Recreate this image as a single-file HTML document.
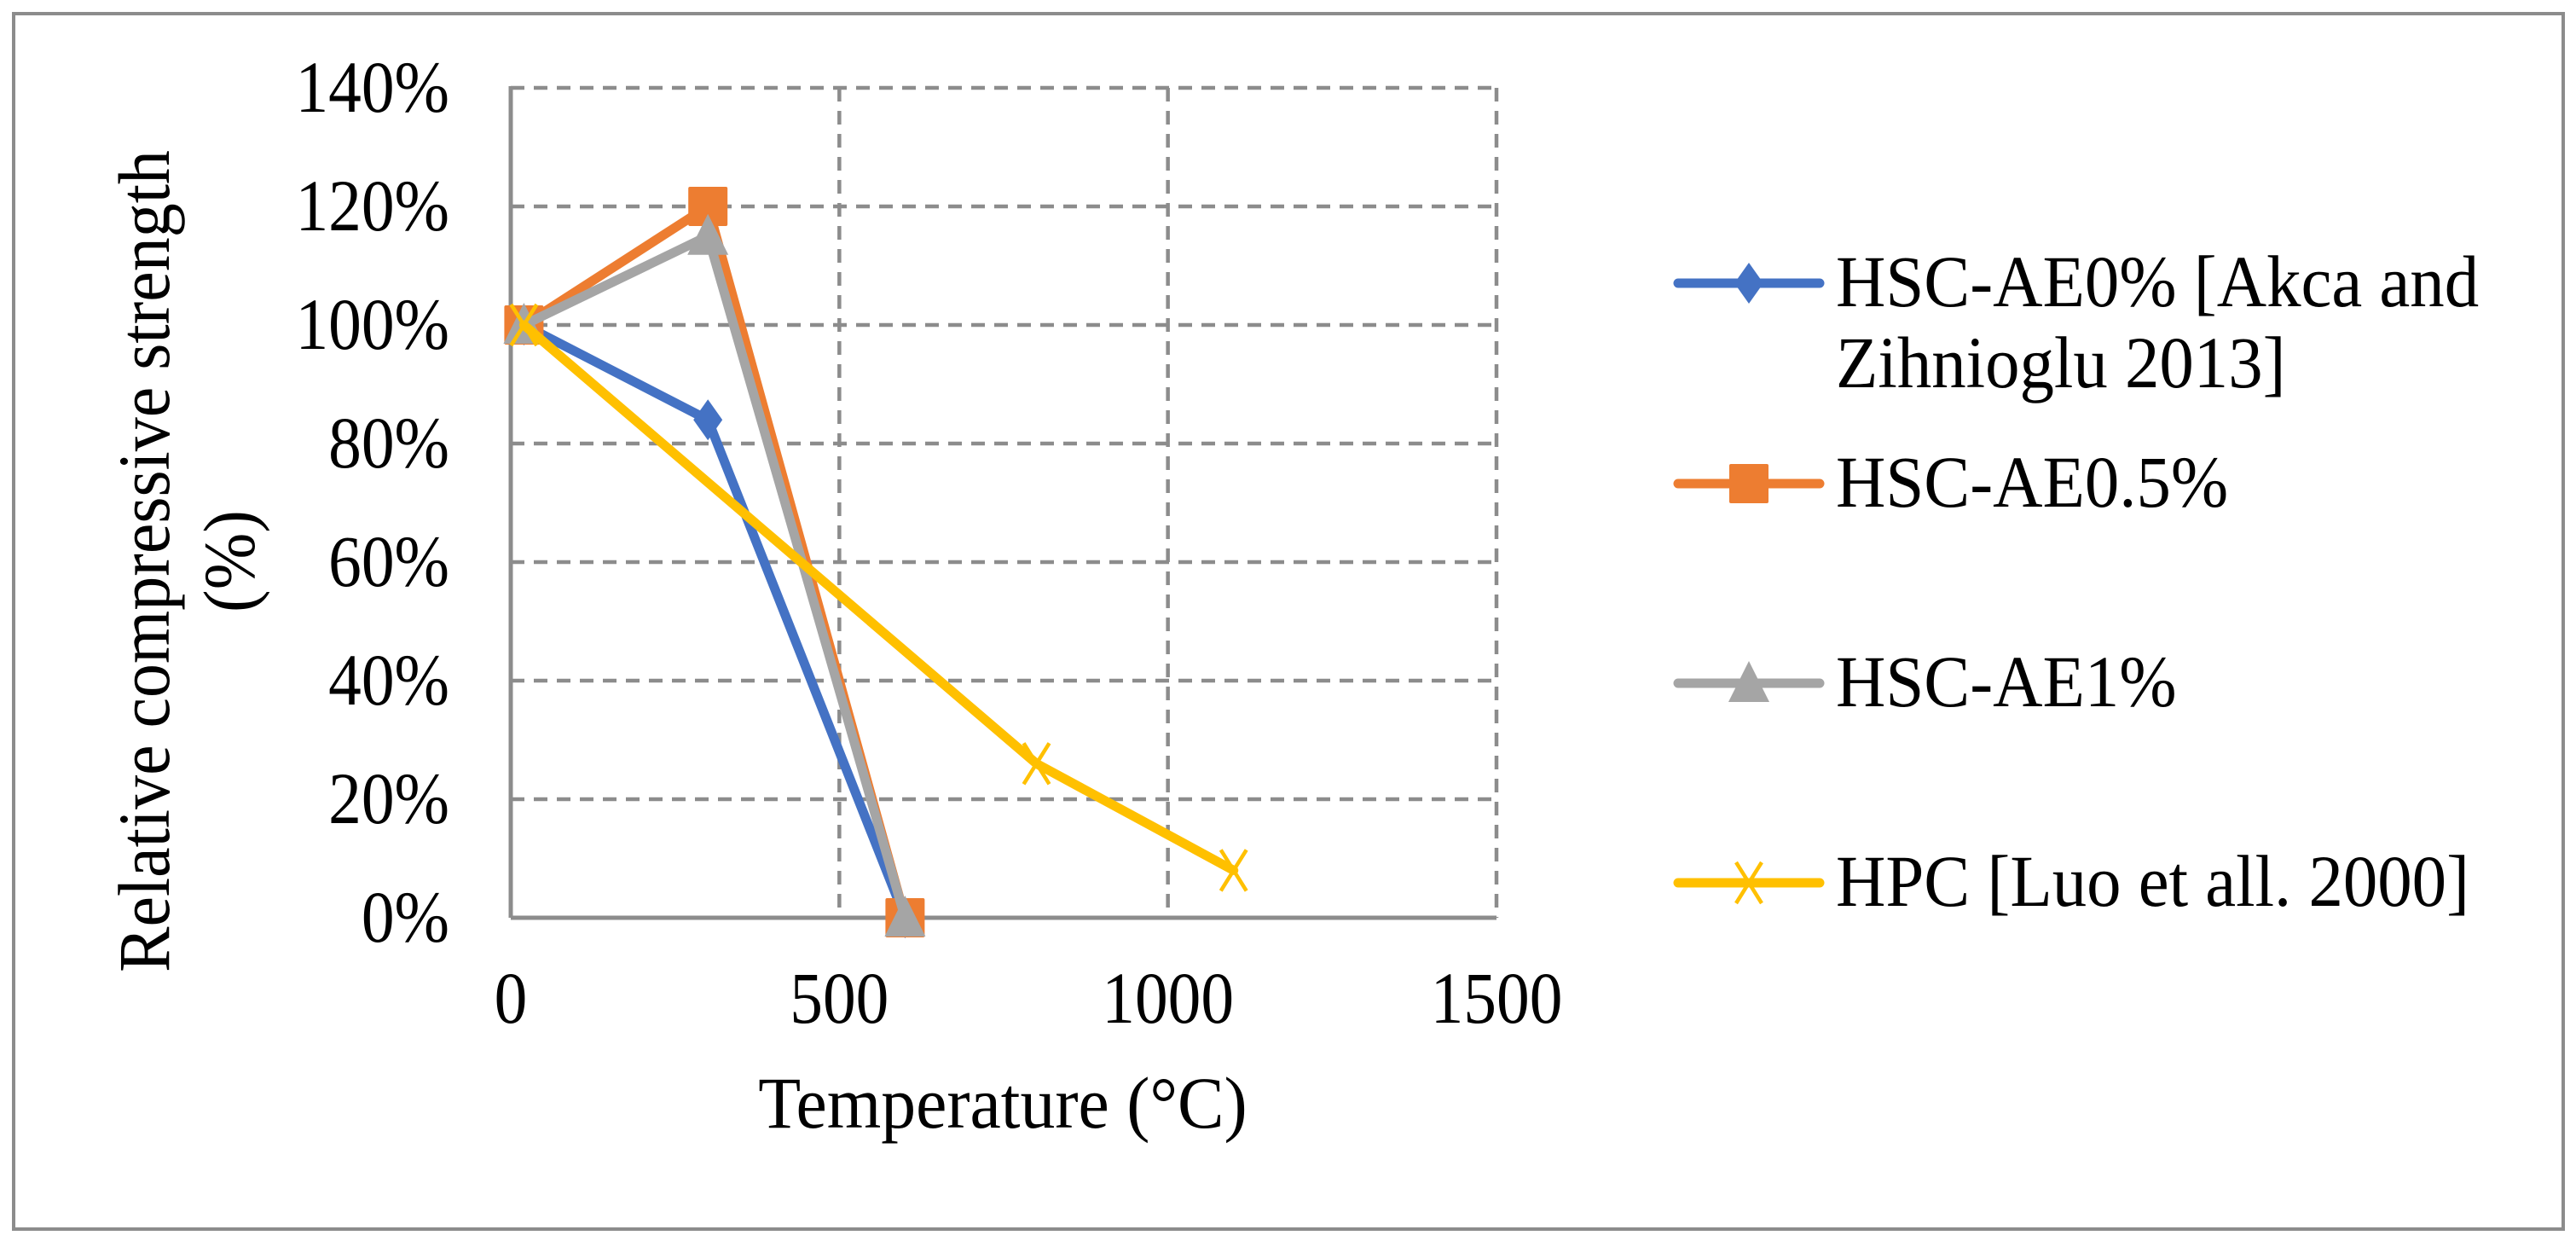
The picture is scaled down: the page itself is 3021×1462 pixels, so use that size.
<!DOCTYPE html>
<html><head><meta charset="utf-8"><style>
html,body{margin:0;padding:0;background:#fff;}
svg{display:block;}
text{font-family:"Liberation Serif","Times New Roman",serif;fill:#000;}
</style></head><body>
<svg id="chart" width="3021" height="1462" viewBox="0 0 3021 1462" xmlns="http://www.w3.org/2000/svg">
<rect x="16" y="16" width="2990" height="1425" fill="#fff" stroke="#8c8c8c" stroke-width="4"/>
<g id="grid"></g><g id="series"></g><g id="labels"></g><g id="legend"></g>
</svg>
<script>
const xTicks=[0,500,1000,1500];
const yTicks=[0,0.2,0.4,0.6,0.8,1.0,1.2,1.4];
const yTickLabels=["0%","20%","40%","60%","80%","100%","120%","140%"];
const seriesNames=["HSC-AE0% [Akca and Zihnioglu 2013]","HSC-AE0.5%","HSC-AE1%","HPC [Luo et all. 2000]"];
const xAE0=[20,300,600];
const yAE0=[1.0,0.84,0.0];
const xAE05=[20,300,600];
const yAE05=[1.0,1.2,0.0];
const xAE1=[20,300,600];
const yAE1=[1.0,1.15,0.0];
const xHPC=[20,800,1100];
const yHPC=[1.0,0.26,0.08];

const NS="http://www.w3.org/2000/svg";
const L=599,R=1755,T=103,B=1076;
const X=v=>L+(v-0)/(1500-0)*(R-L);
const Y=v=>B-(v-0)/(1.4-0)*(B-T);
function mk(tag,attrs,parent){const e=document.createElementNS(NS,tag);for(const k in attrs)e.setAttribute(k,attrs[k]);parent.appendChild(e);return e;}
const grid=document.getElementById('grid'),ser=document.getElementById('series'),lab=document.getElementById('labels'),leg=document.getElementById('legend');
function txt(s,x,y,anchor,parent,name,sx){
  const t=mk('text',{transform:`translate(${x},${y}) scale(${sx},1)`,'text-anchor':anchor,'font-size':86},parent);
  t.textContent=s;
  
  
  return t;
}
yTicks.forEach((v,i)=>{
  if(v===0)return;
  const g=mk('line',{x1:L,x2:R,y1:Y(v),y2:Y(v),stroke:'#8c8c8c','stroke-width':4.5,'stroke-dasharray':'16 11'},grid);
  
  
});
xTicks.forEach(v=>{
  if(v===0)return;
  const g=mk('line',{x1:X(v),x2:X(v),y1:T,y2:B,stroke:'#8c8c8c','stroke-width':4.5,'stroke-dasharray':'16 11'},grid);
  
  
});
const ya=mk('line',{x1:L,x2:L,y1:T-2,y2:B,stroke:'#8c8c8c','stroke-width':5},grid);


const xa=mk('line',{x1:L,x2:R,y1:B,y2:B,stroke:'#8c8c8c','stroke-width':5},grid);


yTicks.forEach((v,i)=>{txt(yTickLabels[i],527,Y(v)+28,'end',lab,'y-tick-label',0.9);});
xTicks.forEach(v=>{txt(String(v),X(v),1199,'middle',lab,'x-tick-label',0.9);});
txt('Temperature (°C)',1176,1322,'middle',lab,'x-axis-title',0.95);
const yt1=mk('text',{transform:'translate(198,658) rotate(-90) scale(0.93,1)','text-anchor':'middle','font-size':86},lab);
yt1.textContent='Relative compressive strength';


const yt2=mk('text',{transform:'translate(298,658) rotate(-90) scale(0.93,1)','text-anchor':'middle','font-size':86},lab);
yt2.textContent='(%)';



const colors=['#4472c4','#ed7d31','#a5a5a5','#ffc000'];
const markers=['diamond','square','triangle','x'];
function marker(type,cx,cy,c,parent){
  let m;
  if(type==='diamond')m=mk('polygon',{points:`${cx},${cy-24} ${cx+17},${cy} ${cx},${cy+24} ${cx-17},${cy}`,fill:c},parent);
  else if(type==='square')m=mk('rect',{x:cx-23,y:cy-23,width:46,height:46,fill:c,rx:2},parent);
  else if(type==='triangle')m=mk('polygon',{points:`${cx},${cy-26} ${cx+24},${cy+22} ${cx-24},${cy+22}`,fill:c},parent);
  else m=mk('path',{d:`M${cx-15},${cy-24}L${cx+15},${cy+24}M${cx+15},${cy-24}L${cx-15},${cy+24}`,stroke:c,'stroke-width':4.5,fill:'none'},parent);
  
  
}
const data=[[xAE0,yAE0],[xAE05,yAE05],[xAE1,yAE1],[xHPC,yHPC]];
const snames=['series-hsc-ae0','series-hsc-ae05','series-hsc-ae1','series-hpc'];
data.forEach((d,i)=>{
  const g=mk('g',{},ser);
  
  
  const pts=d[0].map((x,j)=>X(x)+','+Y(d[1][j])).join(' ');
  const pl=mk('polyline',{points:pts,fill:'none',stroke:colors[i],'stroke-width':11,'stroke-linejoin':'round','stroke-linecap':'round'},g);
  
  
  d[0].forEach((x,j)=>marker(markers[i],X(x),Y(d[1][j]),colors[i],g));
});
const rows=[332,567,801,1035];
rows.forEach((y,i)=>{
  const g=mk('g',{},leg);
  
  
  const ln=mk('line',{x1:1968,x2:2134,y1:y,y2:y,stroke:colors[i],'stroke-width':11,'stroke-linecap':'round'},g);
  
  
  marker(markers[i],2051,y,colors[i],g);
  if(i===0){
    txt('HSC-AE0% [Akca and',2153,y+27,'start',g,'legend-label',0.94);
    txt('Zihnioglu 2013]',2153,y+122,'start',g,'legend-label',0.94);
  } else txt(seriesNames[i],2153,y+27,'start',g,'legend-label',0.94);
});
</script>
</body></html>
